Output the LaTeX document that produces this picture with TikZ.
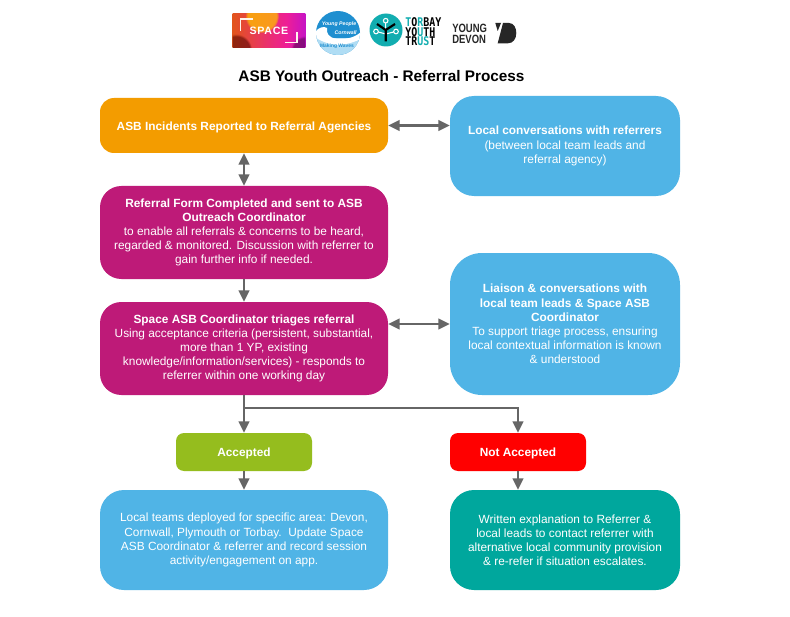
\documentclass[tikz,border=0pt]{standalone}
\usepackage{fontspec}
\usepackage{graphicx}
\setmainfont{Liberation Sans}
\newfontfamily\logomono{DejaVu Sans Mono}
\usetikzlibrary{arrows.meta,calc,fadings}
\definecolor{cOrange}{HTML}{F39C00}
\definecolor{cMagenta}{HTML}{BE1A78}
\definecolor{cBlue}{HTML}{50B4E6}
\definecolor{cGreen}{HTML}{95BD1E}
\definecolor{cRed}{HTML}{FF0000}
\definecolor{cTeal}{HTML}{00A79D}
\definecolor{cLine}{HTML}{666666}
\definecolor{cLogoTeal}{HTML}{12ADB0}
\definecolor{cYpBlue}{HTML}{1F8FD0}
\definecolor{cSpaceA}{HTML}{E2541C}
\definecolor{cSpaceB}{HTML}{EE1E96}
\definecolor{cSpaceC}{HTML}{A80CE8}
\pgfdeclarehorizontalshading{spacefill}{100bp}{
  color(0bp)=(cSpaceA); color(25bp)=(cSpaceA); color(50bp)=(cSpaceA!30!cSpaceB); color(62bp)=(cSpaceB); color(85bp)=(cSpaceC); color(100bp)=(cSpaceC)}
\tikzset{
  x=0.75pt,y=-0.75pt,
  flowbox/.style={rectangle,draw=none,align=center,text=white,inner sep=0pt,
    font=\fontsize{8.9}{10.6}\selectfont,execute at begin node=\rule{0pt}{9pt}},
  tip/.style={},
  link/.style={draw=cLine,line width=1.8pt,
    {Triangle[length=8.5pt,width=7.8pt]}-{Triangle[length=8.5pt,width=7.8pt]}},
  flow/.style={draw=cLine,line width=1.8pt,-{Triangle[length=8.5pt,width=7.8pt]}},
  logotext/.style={inner sep=0pt},
}
\begin{document}
\begin{tikzpicture}
\useasboundingbox (0,0) rectangle (790,617);
\fill[white] (0,0) rectangle (790,617);

% Partner logos
\begin{scope}
  \clip (232.7,14) rectangle (305.3,47.7);
  \shade[shading=spacefill] (232.7,14) rectangle (305.3,47.7);
  \fill[orange!50!yellow,opacity=.75,path fading=circle with fuzzy edge 15 percent] (262,16) circle (17);
  \fill[black!70!red,opacity=.55,path fading=circle with fuzzy edge 15 percent] (236,50) circle (16);
  \fill[black!60!violet,opacity=.45,path fading=circle with fuzzy edge 15 percent] (305,50) circle (14);
\end{scope}
\draw[white!92!orange,line width=1pt] (240.7,30.7) |- (252.7,19);
\draw[white!92!orange,line width=1pt] (285,42.7) -| (297,31.7);
\node[logotext,text=white,font=\fontsize{8}{9}\bfseries\selectfont] (spaceword) at (269,31) {\addfontfeature{LetterSpace=6}SPACE};

\fill[cYpBlue] (338,33) circle (22);
\begin{scope}
  \clip (338,33) circle (22);
  \fill[cBlue!45!white] (314,38) -- (362,38) -- (362,56) -- (314,56) -- cycle;
  \fill[white] (315,32) .. controls (319,27) and (324,26) .. (327,28)
    .. controls (326,33) and (329,38) .. (336,38.5) .. controls (345,39) and (353,39) .. (361,32)
    -- (361,39) .. controls (352,43) and (342,46) .. (333,44.5) .. controls (325,43) and (319,40) .. (315,37) -- cycle;
\end{scope}
\node[logotext,text=white,align=center,font=\fontsize{3.9}{7.2}\bfseries\itshape\selectfont] (ypc) at (339,28) {Young People\\\hspace*{10pt}Cornwall};
\node[logotext,text=cYpBlue,font=\fontsize{3.7}{4}\bfseries\selectfont] (waves) at (337,46.7) {Making Waves};

\fill[cLogoTeal] (386,30) circle (16.5);
\draw[white,line width=.8pt] (385.7,34) -- (376.5,31.5) (385.7,34) -- (395.5,31.5) (385.7,30) -- (385.7,21);
\draw[black,line width=1.6pt] (385.7,41.5) -- (385.7,30) -- (377,24) (385.7,30) -- (395,24);
\foreach \px/\py in {376/31.5,396/31.5,385.7/20.7}
  \filldraw[fill=cLogoTeal,draw=white,line width=.8pt] (\px,\py) circle (2.3);
\node[logotext,anchor=west,font=\logomono\fontsize{9}{9}\bfseries\selectfont] (tbline) at (405,22) {\scalebox{.83}[1]{\textcolor{cLogoTeal}{T}O\textcolor{cLogoTeal}{R}BAY}};
\node[logotext,anchor=west,font=\logomono\fontsize{9}{9}\bfseries\selectfont] (tbltwo) at (405,32) {\scalebox{.83}[1]{YO\textcolor{cLogoTeal}{U}TH}};
\node[logotext,anchor=west,font=\logomono\fontsize{9}{9}\bfseries\selectfont] (tblthree) at (405,41.5) {\scalebox{.83}[1]{TR\textcolor{cLogoTeal}{US}T}};

\node[logotext,anchor=west,text=black!85,font=\fontsize{9}{9}\bfseries\selectfont] (ydone) at (452,28) {\scalebox{.79}[1]{YOUNG}};
\node[logotext,anchor=west,text=black!85,font=\fontsize{9}{9}\bfseries\selectfont] (ydtwo) at (452,39) {\scalebox{.79}[1]{DEVON}};
\fill[black!85] (495.3,23) -- (501,23) -- (497.7,31) -- cycle;
\fill[black!85] (503,23) -- (509,23) .. controls (514,23) and (516.3,28) .. (516.3,33)
  .. controls (516.3,39) and (513,43.3) .. (508,43.3) -- (497.7,43.3) -- cycle;

% Title
\node[inner sep=0pt,text=black,font=\fontsize{11.5}{13}\bfseries\selectfont] (title) at (381.5,76) {ASB Youth Outreach - Referral Process};

% Process boxes
\node[flowbox,fill=cOrange,minimum width=216pt,minimum height=41.25pt,rounded corners=10.5pt] (incidents) at (244,125.5)
  {\bfseries ASB Incidents Reported to Referral Agencies};
\node[flowbox,fill=cBlue,minimum width=172.5pt,minimum height=75pt,rounded corners=18pt] (conversations) at (565,146)
  {{\bfseries Local conversations with referrers}\\(between local team leads and\\referral agency)};
\node[flowbox,fill=cMagenta,minimum width=216pt,minimum height=69.75pt,rounded corners=16pt] (form) at (244,232.5)
  {{\bfseries Referral Form Completed and sent to ASB}\\{\bfseries Outreach Coordinator}\\to enable all referrals \& concerns to be heard,\\regarded \& monitored. Discussion with referrer to\\gain further info if needed.};
\node[flowbox,fill=cMagenta,minimum width=216pt,minimum height=69.75pt,rounded corners=16pt] (triage) at (244,348.5)
  {{\bfseries Space ASB Coordinator triages referral}\\Using acceptance criteria (persistent, substantial,\\more than 1 YP, existing\\knowledge/information/services) - responds to\\referrer within one working day};
\node[flowbox,fill=cBlue,minimum width=172.5pt,minimum height=106.5pt,rounded corners=24pt] (liaison) at (565,324)
  {{\bfseries Liaison \& conversations with}\\{\bfseries local team leads \& Space ASB}\\{\bfseries Coordinator}\\To support triage process, ensuring\\local contextual information is known\\\& understood};
\node[flowbox,fill=cGreen,minimum width=102pt,minimum height=28.5pt,rounded corners=6pt] (accepted) at (244,452)
  {\bfseries Accepted};
\node[flowbox,fill=cRed,minimum width=102pt,minimum height=28.5pt,rounded corners=6pt] (rejected) at (518,452)
  {\bfseries Not Accepted};
\node[flowbox,fill=cBlue,minimum width=216pt,minimum height=75pt,rounded corners=18pt] (deploy) at (244,540)
  {Local teams deployed for specific area: Devon,\\Cornwall, Plymouth or Torbay.\ \ Update Space\\ASB Coordinator \& referrer and record session\\activity/engagement on app.};
\node[flowbox,fill=cTeal,minimum width=172.5pt,minimum height=75pt,rounded corners=18pt] (explain) at (565,540)
  {Written explanation to Referrer \&\\local leads to contact referrer with\\alternative local community provision\\\& re-refer if situation escalates.};

% Connectors
\coordinate (branch) at ($(triage.south)+(0,13)$);
\draw[link] (incidents.east) -- (incidents.east -| conversations.west);
\draw[link] (incidents.south) -- (form.north);
\draw[flow] (form.south) -- (triage.north);
\draw[link] (liaison.west -| triage.east) -- (liaison.west);
\draw[flow] (triage.south) -- (accepted.north);
\draw[flow] (branch) -| (rejected.north);
\draw[flow] (accepted.south) -- (accepted.south |- deploy.north);
\draw[flow] (rejected.south) -- (rejected.south |- explain.north);
\end{tikzpicture}
\end{document}
